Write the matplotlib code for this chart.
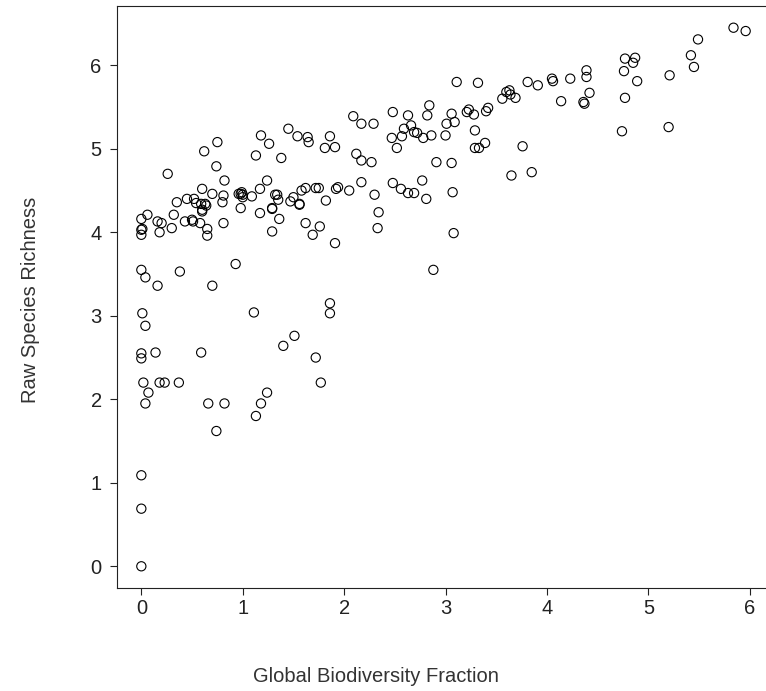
import matplotlib
matplotlib.use("Agg")
import matplotlib.pyplot as plt

# (Global Biodiversity Fraction vs Raw Species Richness)
gbf = [0.00, 0.00, 0.00, 0.00, 0.00, 0.01, 0.00, 0.04, 0.04, 0.02, 0.04, 0.07,
       0.00, 0.00, 0.01, 0.00, 0.06, 0.14, 0.16, 0.18, 0.23, 0.37, 0.18, 0.16,
       0.20, 0.26, 0.30, 0.32, 0.35, 0.38, 0.43, 0.45, 0.51, 0.52, 0.54, 0.58,
       0.59, 0.60, 0.60, 0.62, 0.63, 0.65, 0.65, 0.59, 0.66, 0.70, 0.70, 0.74,
       0.75, 0.74, 0.80, 0.81, 0.82, 0.81, 0.82, 0.93, 0.96, 0.98, 1.00, 1.09,
       1.11, 1.13, 1.13, 1.17, 1.17, 1.18, 1.18, 1.24, 1.24, 1.26, 1.29, 1.29,
       1.32, 1.34, 1.35, 1.36, 1.38, 1.40, 1.45, 1.47, 1.51, 1.54, 1.56, 1.58,
       1.62, 1.62, 1.64, 1.65, 1.69, 1.72, 1.75, 1.72, 1.76, 1.77, 1.81, 1.82,
       1.86, 1.86, 1.86, 1.91, 1.91, 1.92, 1.94, 2.05, 2.09, 2.12, 2.17, 2.17,
       2.17, 2.27, 2.29, 2.30, 2.33, 2.34, 2.48, 2.47, 2.48, 2.52, 2.56, 2.57,
       2.59, 2.63, 2.63, 2.66, 2.69, 2.69, 2.72, 2.77, 2.78, 2.81, 2.82, 2.84,
       2.86, 2.88, 2.91, 3.00, 3.01, 3.06, 3.06, 3.07, 3.08, 3.09, 3.11, 3.21,
       3.23, 3.28, 3.29, 3.29, 3.32, 3.33, 3.39, 3.40, 3.42, 3.56, 3.60, 3.63,
       3.64, 3.65, 3.69, 3.76, 3.81, 3.85, 3.91, 4.05, 4.06, 4.14, 4.23, 4.36,
       4.37, 4.39, 4.39, 4.42, 4.74, 4.76, 4.77, 4.77, 4.85, 4.87, 4.89, 5.20,
       5.21, 5.42, 5.45, 5.49, 5.84, 5.96,
       0.60, 0.64, 0.50, 0.99, 0.98, 1.00, 1.50, 1.56, 1.29]
richness = [0.00, 0.69, 1.09, 2.55, 2.49, 3.03, 3.55, 3.46, 2.88, 2.20, 1.95, 2.08,
            4.03, 3.97, 4.04, 4.16, 4.21, 2.56, 3.36, 2.20, 2.20, 2.20, 4.00, 4.13,
            4.11, 4.70, 4.05, 4.21, 4.36, 3.53, 4.13, 4.40, 4.13, 4.40, 4.35, 4.11,
            4.34, 4.52, 4.25, 4.97, 4.34, 4.04, 3.96, 2.56, 1.95, 4.46, 3.36, 4.79,
            5.08, 1.62, 4.36, 4.44, 4.62, 4.11, 1.95, 3.62, 4.46, 4.29, 4.45, 4.43,
            3.04, 4.92, 1.80, 4.52, 4.23, 1.95, 5.16, 4.62, 2.08, 5.06, 4.28, 4.01,
            4.45, 4.45, 4.39, 4.16, 4.89, 2.64, 5.24, 4.37, 2.76, 5.15, 4.33, 4.50,
            4.53, 4.11, 5.14, 5.08, 3.97, 4.53, 4.53, 2.50, 4.07, 2.20, 5.01, 4.38,
            3.15, 3.03, 5.15, 5.02, 3.87, 4.52, 4.54, 4.50, 5.39, 4.94, 5.30, 4.86,
            4.60, 4.84, 5.30, 4.45, 4.05, 4.24, 5.44, 5.13, 4.59, 5.01, 4.52, 5.15,
            5.24, 5.40, 4.47, 5.28, 5.20, 4.47, 5.19, 4.62, 5.13, 4.40, 5.40, 5.52,
            5.16, 3.55, 4.84, 5.16, 5.30, 5.42, 4.83, 4.48, 3.99, 5.32, 5.80, 5.44,
            5.47, 5.41, 5.22, 5.01, 5.79, 5.01, 5.07, 5.45, 5.49, 5.60, 5.68, 5.70,
            5.65, 4.68, 5.61, 5.03, 5.80, 4.72, 5.76, 5.84, 5.81, 5.57, 5.84, 5.56,
            5.54, 5.94, 5.86, 5.67, 5.21, 5.93, 5.61, 6.08, 6.03, 6.09, 5.81, 5.26,
            5.88, 6.12, 5.98, 6.31, 6.45, 6.41,
            4.27, 4.32, 4.15, 4.48, 4.46, 4.42, 4.42, 4.34, 4.29]

xticks = [0, 1, 2, 3, 4, 5, 6]
yticks = [0, 1, 2, 3, 4, 5, 6]

plt.rcParams['font.family'] = ['Liberation Sans', 'DejaVu Sans']

fig = plt.figure(figsize=(7.66, 6.91), dpi=100)
# R-style plot region, right edge runs just off the picture
ax = fig.add_axes([117/766, 103/691, 653/766, 582/691])

ax.scatter(gbf, richness, s=44, facecolors='none', edgecolors='black', linewidths=0.8)

# R pads the range by 4%
ax.set_xlim(-0.24, 6.2)
ax.set_ylim(-0.26, 6.71)
ax.set_xticks(xticks)
ax.set_yticks(yticks)

for sp in ax.spines.values():
    sp.set_linewidth(0.8)
    sp.set_color('#222222')

ax.tick_params(axis='both', direction='out', length=5, width=0.8, colors='#222222',
               labelsize=14.5, labelcolor='#222222')
ax.tick_params(axis='x', pad=3)
ax.tick_params(axis='y', pad=6)

fig.text(376/766, 1 - 676/691, 'Global Biodiversity Fraction',
         ha='center', va='center', fontsize=14.5, color='#333333')
fig.text(31/766, 1 - 300/691, 'Raw Species Richness', rotation=90,
         ha='center', va='center', fontsize=14.5, color='#333333')

fig.savefig('out.png', dpi=100)
